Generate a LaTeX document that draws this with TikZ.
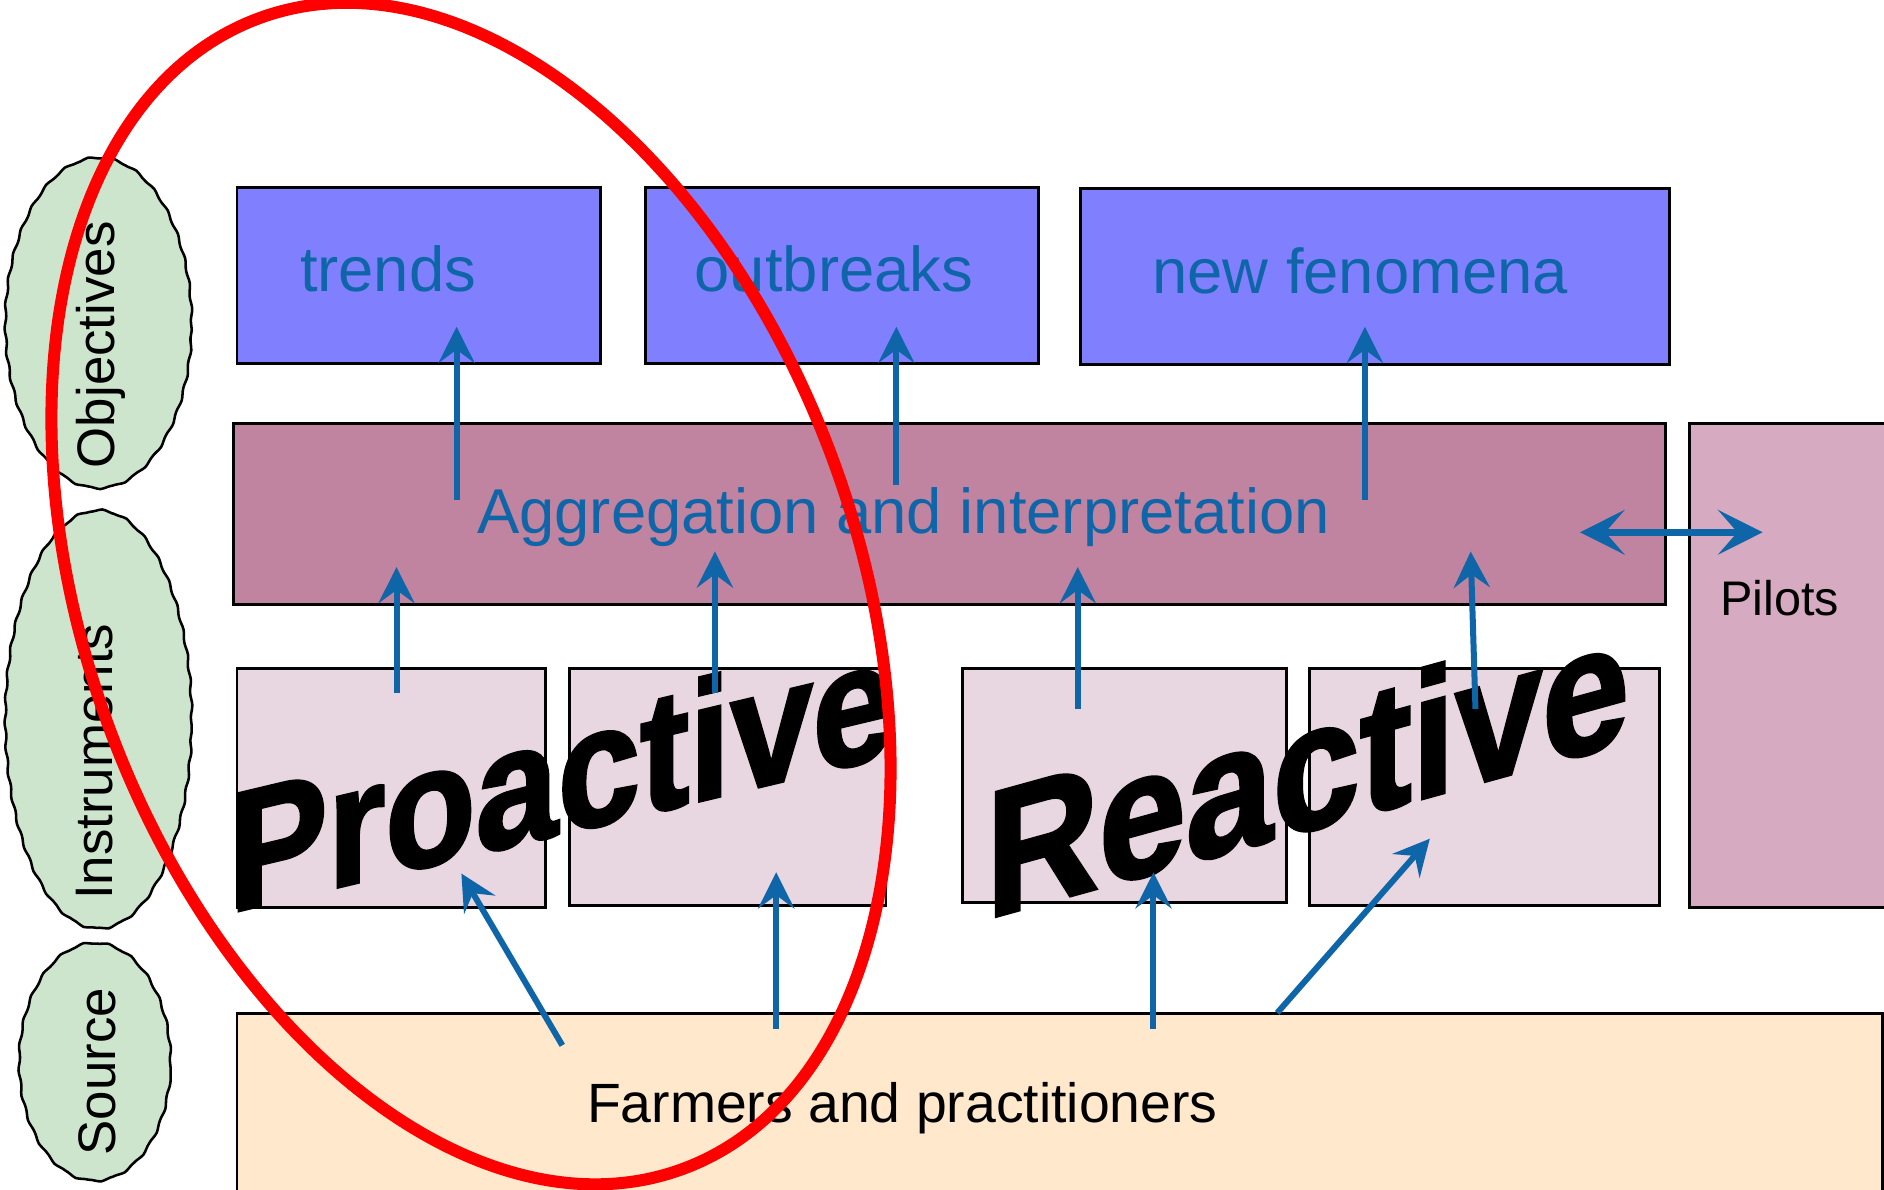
\documentclass[tikz,border=0pt]{standalone}
\usepackage{fontspec}
\setmainfont{Liberation Sans}
\newfontfamily\wordartfont{Liberation Sans}[BoldFeatures={FakeBold=2}]
\usetikzlibrary{arrows.meta, shapes.geometric, decorations.pathmorphing}
\definecolor{objfill}{RGB}{128,128,255}
\definecolor{aggfill}{RGB}{192,131,160}
\definecolor{pilotfill}{RGB}{214,170,192}
\definecolor{instfill}{RGB}{232,214,224}
\definecolor{srcfill}{RGB}{255,232,204}
\definecolor{sidefill}{RGB}{205,229,205}
\definecolor{arrowblue}{RGB}{14,102,168}

\begin{document}
\begin{tikzpicture}[x=0.01cm, y=-0.01cm,
    box/.style={draw, line width=0.7pt, anchor=north west, inner sep=0pt},
    side/.style={ellipse, draw, line width=0.6pt, fill=sidefill, inner sep=0pt,
      decorate, decoration={snake, segment length=6pt, amplitude=0.2pt}},
    sidetext/.style={rotate=90, anchor=base, font=\fontsize{12.5}{15}\selectfont},
    bluetext/.style={anchor=base, text=arrowblue, font=\fontsize{15}{18}\selectfont},
    wordart/.style={anchor=base west, inner sep=0pt, yscale=1.15},
    flow/.style={draw=arrowblue, line width=0.05cm,
      -{Stealth[length=3mm, width=3mm, inset=1.1mm]}},
    both/.style={draw=arrowblue, line width=0.06cm,
      {Stealth[length=3.7mm, width=3.7mm, inset=1.6mm]}-{Stealth[length=3.7mm, width=3.7mm, inset=1.6mm]}},
    ring/.style={draw=red, line width=0.1cm}]
      \useasboundingbox (0,0) rectangle (1568,990);
      \clip (0,0) rectangle (1568,990);

      \node[box, fill=objfill, minimum width=3.02cm, minimum height=1.46cm] (trends) at (196,155) {};
      \node[box, fill=objfill, minimum width=3.27cm, minimum height=1.46cm] (outbreaks) at (536,155) {};
      \node[box, fill=objfill, minimum width=4.90cm, minimum height=1.46cm] (fenomena) at (898,156) {};
      \node[box, fill=aggfill, minimum width=11.91cm, minimum height=1.51cm] (agg) at (193,351) {};
      \node[box, fill=pilotfill, minimum width=2.2cm, minimum height=4.03cm] (pilots) at (1405,351) {};
      \node[box, fill=instfill, minimum width=2.57cm, minimum height=1.99cm] (pro1) at (196,555) {};
      \node[box, fill=instfill, minimum width=2.63cm, minimum height=1.97cm] (pro2) at (473,555) {};
      \node[box, fill=instfill, minimum width=2.69cm, minimum height=1.95cm] (re1) at (800,555) {};
      \node[box, fill=instfill, minimum width=2.91cm, minimum height=1.97cm] (re2) at (1089,555) {};
      \node[box, fill=srcfill, minimum width=13.69cm, minimum height=1.7cm] (farmers) at (196,842) {};

      \node[side, minimum width=1.55cm, minimum height=2.75cm] (objectives) at (82,274) {};
      \node[side, minimum width=1.55cm, minimum height=3.48cm] (instruments) at (82,604) {};
      \node[side, minimum width=1.26cm, minimum height=1.98cm] (source) at (79,889) {};
      \node[sidetext] (objlabel) at (95,287) {Objectives};
      \node[sidetext] (instlabel) at (94,634) {Instruments};
      \node[sidetext] (srclabel) at (96,892) {Source};

      \node[bluetext] (trendslabel) at (323,243) {trends};
      \node[bluetext] (outbreakslabel) at (694,243) {outbreaks};
      \node[bluetext] (fenomenalabel) at (1132,244) {new fenomena};
      \node[bluetext] (agglabel) at (752,444) {Aggregation and interpretation};
      \node[anchor=base, font=\fontsize{11.5}{14}\selectfont] (pilotslabel) at (1481,512) {Pilots};
      \node[anchor=base, font=\fontsize{13.1}{16}\selectfont] (farmerslabel) at (751,934) {Farmers and practitioners};

      \node[wordart, yslant=0.207, font=\wordartfont\bfseries\fontsize{35}{40}\selectfont] (proactive) at (190,760) {Proactive};
      \node[wordart, yslant=0.24, font=\wordartfont\bfseries\fontsize{37}{42}\selectfont] (reactive) at (820,765) {Reactive};

      \coordinate (s1) at (380,416);   \coordinate (e1) at (380,272);
      \coordinate (s2) at (746,404);   \coordinate (e2) at (746,272);
      \coordinate (s3) at (1136,416);  \coordinate (e3) at (1136,272);
      \coordinate (s4) at (330,577);   \coordinate (e4) at (330,472);
      \coordinate (s5) at (595,577);   \coordinate (e5) at (595,459);
      \coordinate (s6) at (897,590);   \coordinate (e6) at (897,472);
      \coordinate (s7) at (1228,590);  \coordinate (e7) at (1224,459);
      \coordinate (s8) at (468,870);   \coordinate (e8) at (384,727);
      \coordinate (s9) at (646,856);   \coordinate (e9) at (646,726);
      \coordinate (s10) at (960,856);  \coordinate (e10) at (960,726);
      \coordinate (s11) at (1063,843); \coordinate (e11) at (1190,698);
      \coordinate (s12) at (1315,443); \coordinate (e12) at (1467,443);

      \draw[flow] (s1) -- (e1);
      \draw[flow] (s2) -- (e2);
      \draw[flow] (s3) -- (e3);
      \draw[flow] (s4) -- (e4);
      \draw[flow] (s5) -- (e5);
      \draw[flow] (s6) -- (e6);
      \draw[flow] (s7) -- (e7);
      \draw[flow] (s8) -- (e8);
      \draw[flow] (s9) -- (e9);
      \draw[flow] (s10) -- (e10);
      \draw[flow] (s11) -- (e11);
      \draw[both] (s12) -- (e12);

      \draw[ring, rotate around={-69.8:(392,494)}] (392,494) ellipse [x radius=5.1cm, y radius=3.21cm];
    \end{tikzpicture}
\end{document}
